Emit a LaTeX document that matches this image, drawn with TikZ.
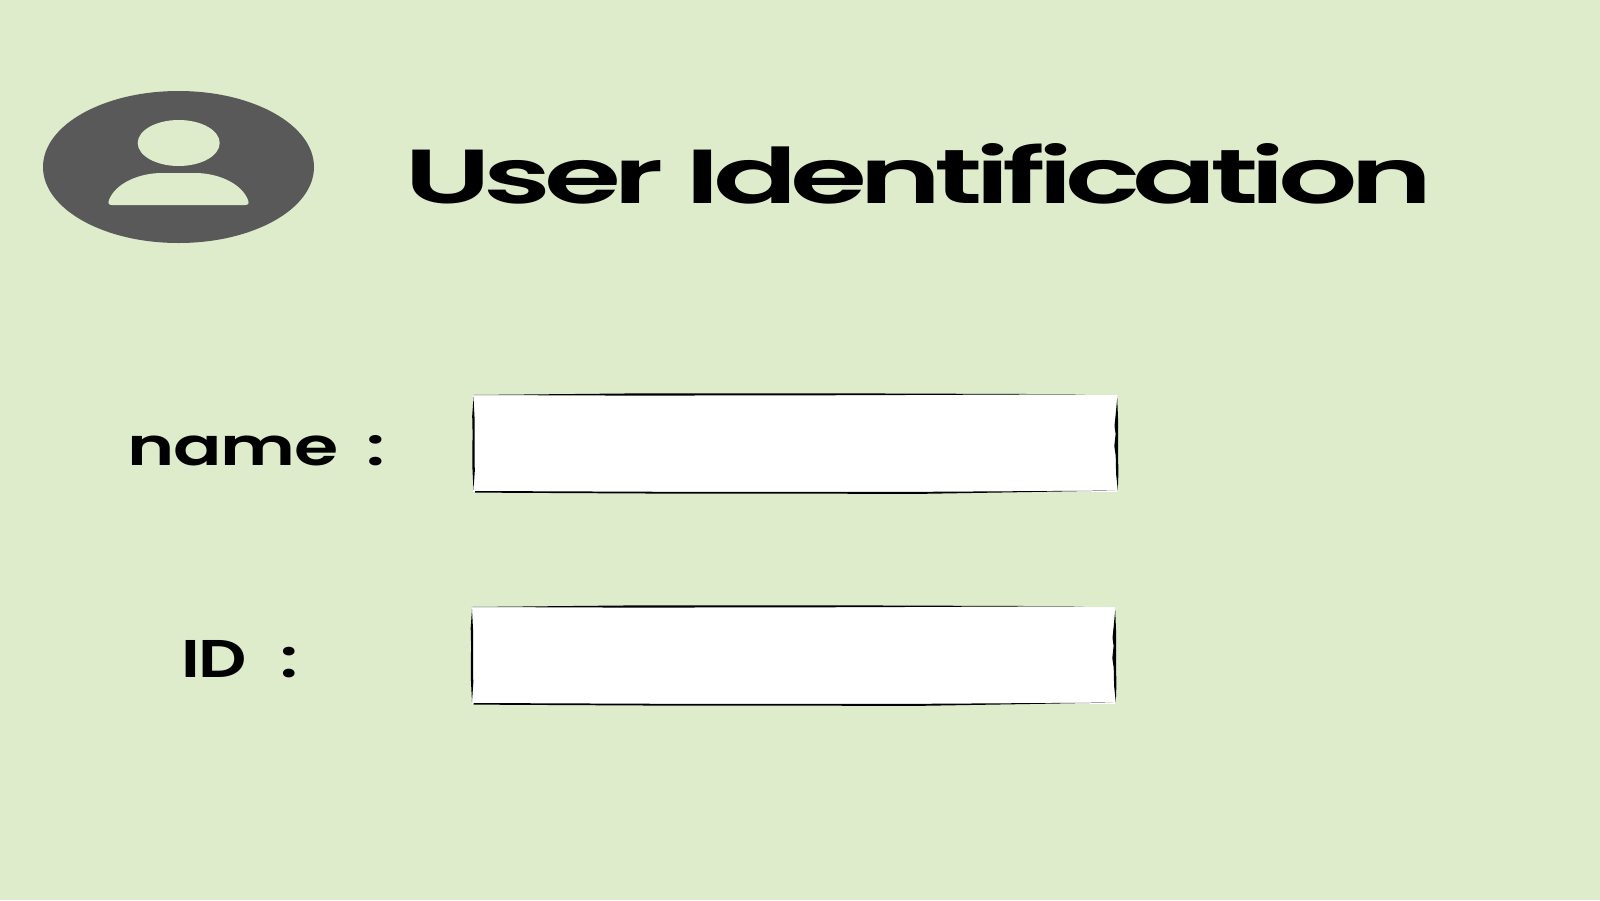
\documentclass[tikz,border=0pt]{standalone}
\usepackage{fontspec}
\usepackage{graphicx}
\setmainfont{Poppins}
\newfontfamily\titlefont[LetterSpace=-6,Ligatures=NoCommon]{Poppins SemiBold}
\newfontfamily\labelfont[LetterSpace=-2,Ligatures=NoCommon]{Poppins SemiBold}
\definecolor{bgreen}{HTML}{DEECCC}
\definecolor{avatar}{HTML}{595959}
\usetikzlibrary{calc}
\tikzset{
  txt/.style={inner sep=0pt,outer sep=0pt,anchor=north west,text=black},
  fieldbox/.style={fill=white,draw=none,inner sep=0pt,outer sep=0pt,anchor=north west,minimum width=#1,minimum height=97pt},
  ink/.style={fill=black,draw=none},
  avatarshape/.style={fill=avatar,draw=none},
  cutshape/.style={fill=bgreen,draw=none}
}
% hand-drawn outline of a field, drawn from the corners of the node #1
\newcommand{\sketchbox}[1]{%
  % top stroke: heavy on the left, fading towards the right
  \fill[ink] ($(#1.north west)+(0,0)$)
    -- ($(#1.north west)!.25!(#1.north east)+(0,-1.6)$)
    -- ($(#1.north west)!.6!(#1.north east)+(0,-1.6)$)
    -- ($(#1.north west)!.95!(#1.north east)+(0,-.8)$)
    -- ($(#1.north west)!.6!(#1.north east)+(0,.2)$)
    -- ($(#1.north west)!.25!(#1.north east)+(0,.6)$) -- cycle;
  % bottom stroke
  \fill[ink] ($(#1.south west)+(2,-1)$)
    -- ($(#1.south west)!.3!(#1.south east)+(0,-.2)$)
    -- ($(#1.south west)!.7!(#1.south east)+(0,-.2)$)
    -- ($(#1.south east)+(-2,-1.4)$)
    -- ($(#1.south west)!.7!(#1.south east)+(0,1.8)$)
    -- ($(#1.south west)!.3!(#1.south east)+(0,1.6)$)
    -- ($(#1.south west)+(2,.6)$) -- cycle;
  % left stroke
  \fill[ink] (#1.north west)++(.5,2) -- ++(1,20) -- ++(.2,18) -- ++(-.2,18) -- ++(.3,18) -- ++(-1.3,19)
    -- ++(-1,-20) -- ++(-.2,-18) -- ++(.3,-18) -- ++(-.4,-18) -- cycle;
  % right stroke
  \fill[ink] (#1.north east)++(.2,3) -- ++(.8,20) -- ++(0,20) -- ++(.2,20) -- ++(.1,18) -- ++(-.5,14)
    -- ++(-1.7,-16) -- ++(-.4,-18) -- ++(-1.4,-10) -- ++(1.3,-12) -- ++(-1.1,-8) -- ++(1.2,-12) -- cycle;
}
\begin{document}
\begin{tikzpicture}[x=1pt,y=-1pt]
\useasboundingbox (0,0) rectangle (1600,900);
\fill[bgreen] (0,0) rectangle (1600,900);
% avatar
\fill[avatarshape] (178.5,167) ellipse [x radius=135.5,y radius=76];
\fill[cutshape] (178.7,143) ellipse [x radius=41,y radius=23];
\fill[cutshape] (112,205) .. controls (108,205) and (108,203) .. (109,200)
  .. controls (115,184) and (138,173) .. (162,173) -- (195,173)
  .. controls (219,173) and (242,184) .. (248,200)
  .. controls (249,203) and (249,205) .. (245,205) -- cycle;
% texts
\node[txt] (title) at (404,143) {\resizebox{1027pt}{60pt}{\titlefont User Identification}};
\node[txt] (namelabel) at (127.5,435) {\resizebox{258pt}{30pt}{\labelfont name\hspace{.4em}:}};
\node[txt] (idlabel) at (181,640) {\resizebox{117pt}{37pt}{\labelfont ID\hspace{.5em}:}};
% fields
\node[fieldbox=644pt] (namefield) at (473,395) {};
\node[fieldbox=643.5pt] (idfield) at (471.5,607) {};
\sketchbox{namefield}
\sketchbox{idfield}
\end{tikzpicture}
\end{document}
